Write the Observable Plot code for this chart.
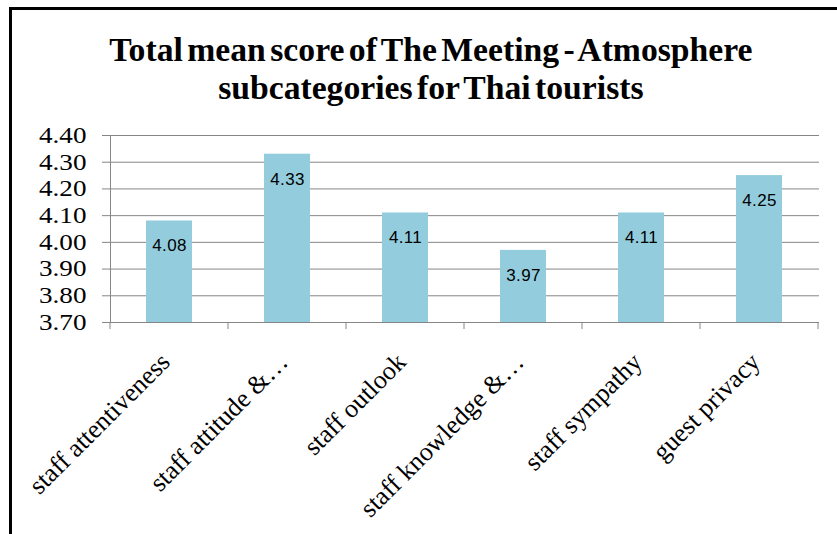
<!DOCTYPE html>
<html>
<head>
<meta charset="utf-8">
<script src="https://cdn.jsdelivr.net/npm/d3@7"></script>
<script src="https://cdn.jsdelivr.net/npm/@observablehq/plot@0.6"></script>
<style>
  html, body { margin: 0; padding: 0; background: #fff; }
  #wrap { position: relative; width: 837px; height: 534px; overflow: hidden; background: #fff; }
  #frame { position: absolute; left: 9px; top: 7px; right: -5px; bottom: -5px;
           border-top: 3px solid #000; border-left: 3px solid #000; }
  #title { position: absolute; left: 17px; width: 827px; top: 31px; text-align: center;
           font-family: "Liberation Serif", serif; font-weight: bold; font-size: 34px;
           line-height: 38px; color: #000; word-spacing: -4px; }
  #title span { display: inline-block; transform: scaleX(0.99); transform-origin: center; white-space: nowrap; }
  #chart { position: absolute; left: 0; top: 118px; }
</style>
</head>
<body>
<div id="wrap">
  <div id="frame"></div>
  <div id="title"><span>Total mean score of The Meeting - Atmosphere</span><br><span>subcategories for Thai tourists</span></div>
  <div id="chart"></div>
</div>
<script>
const categories = ["staff attentiveness", "staff attitude &…", "staff outlook", "staff knowledge &…", "staff sympathy", "guest privacy"];
const values = [4.08, 4.33, 4.11, 3.97, 4.11, 4.25];
const yTicks = [3.70, 3.80, 3.90, 4.00, 4.10, 4.20, 4.30, 4.40];
const baseline = 3.70;

const data = categories.map((c, i) => ({cat: c, value: values[i]}));
const gray = "#868686";
const fmt = d3.format(".2f");
const serif = "'Liberation Serif', 'Times New Roman', serif";

// category boundary tick marks drawn through the x scale
function boundaryTicks(index, scales, values, dims) {
  const x = scales.x;
  const step = x.step ? x.step() : (dims.width - dims.marginLeft - dims.marginRight) / categories.length;
  const bw = x.bandwidth();
  const g = d3.create("svg:g");
  const yb = dims.height - dims.marginBottom;
  const pos = categories.map(c => x(c) - (step - bw) / 2);
  pos.push(x(categories[categories.length - 1]) + bw + (step - bw) / 2);
  for (const p of pos) {
    g.append("line").attr("x1", p).attr("x2", p).attr("y1", yb).attr("y2", yb + 7)
      .attr("stroke", gray).attr("stroke-width", 1);
  }
  return g.node();
}

const plot = Plot.plot({
  width: 837,
  height: 416,
  marginLeft: 110,
  marginRight: 18,
  marginTop: 17,
  marginBottom: 212,
  x: { domain: categories, paddingInner: 0.61, paddingOuter: 0.305, axis: null },
  y: { domain: [3.70, 4.40], axis: null },
  marks: [
    Plot.ruleY(yTicks, { stroke: gray, strokeWidth: 1, insetLeft: -8 }),
    Plot.text(yTicks, { y: d => d, text: d => fmt(d), frameAnchor: "left", textAnchor: "end", dx: -24,
                        fontSize: 23, fill: "#000" }),
    Plot.frame({ anchor: "left", stroke: gray }),
    Plot.barY(data, { x: "cat", y1: baseline, y2: "value", fill: "#93CDDD" }),
    boundaryTicks,
    Plot.text(data, { x: "cat", y: "value", text: d => d.value.toFixed(2), dy: 25,
                      fontSize: 17, fill: "#000" }),
    Plot.text(categories, { x: d => d, frameAnchor: "bottom", text: d => d, rotate: -45,
                            textAnchor: "end", dx: 2, dy: 41, fontSize: 26, fill: "#000" })
  ]
});
plot.style.background = "transparent";
const tickLabels = new Set(yTicks.map(d => fmt(d)));
const valueLabels = new Set(values.map(v => v.toFixed(2)));
const catSet = new Set(categories);
plot.querySelectorAll("text").forEach(function(el) {
  const s = el.textContent;
  if (catSet.has(s)) {
    el.style.fontFamily = serif;
  } else if (tickLabels.has(s) && !valueLabels.has(s)) {
    el.style.fontFamily = serif;
    // the reference's axis labels are drawn horizontally stretched
    const t = el.getAttribute("transform") || "";
    el.setAttribute("transform", t + " scale(1.18,1)");
  } else if (valueLabels.has(s)) {
    el.style.fontFamily = "'Liberation Sans', Arial, sans-serif";
    el.style.letterSpacing = "0.3px";
  }
});
document.getElementById("chart").appendChild(plot);
</script>
</body>
</html>
